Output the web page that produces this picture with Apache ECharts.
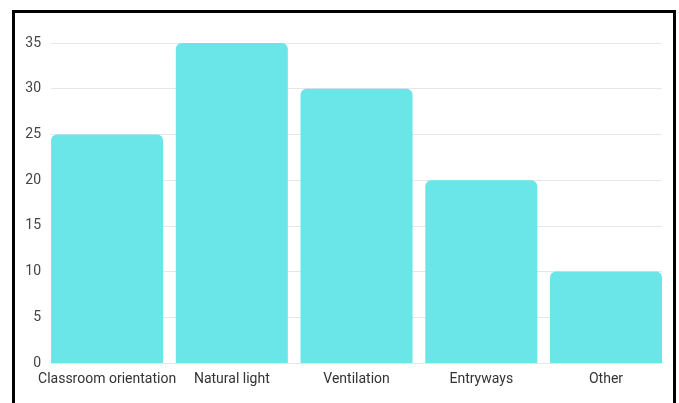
<!DOCTYPE html>
<html>
<head>
<meta charset="utf-8">
<script src="https://cdn.jsdelivr.net/npm/echarts@6/dist/echarts.min.js"></script>
<style>
  html, body { margin: 0; padding: 0; background: #fff; }
  #chart { position: absolute; left: 0; top: 0; width: 679px; height: 403px; }
  #frame { position: absolute; left: 12px; top: 10px; width: 664px; height: 410px;
           box-sizing: border-box; border: 3px solid #000; pointer-events: none; }
</style>
</head>
<body>
<div id="chart"></div>
<div id="frame"></div>
<script>
// Design features and how many respondents mentioned each
const categories = ['Classroom orientation', 'Natural light', 'Ventilation', 'Entryways', 'Other'];
const counts = [25, 35, 30, 20, 10];
const yTicks = [0, 5, 10, 15, 20, 25, 30, 35];

const yMin = yTicks[0];
const yMax = yTicks[yTicks.length - 1];
const yStep = yTicks[1] - yTicks[0];

const chart = echarts.init(document.getElementById('chart'), null, { renderer: 'canvas' });

const labelFont = { fontFamily: 'Roboto, "Liberation Sans", sans-serif', fontSize: 14, color: '#444' };

chart.setOption({
  animation: false,
  grid: [
    // gridlines only
    { left: 51, right: 17, top: 43, bottom: 40 },
    // bars, widened so the outer bars sit flush with the gridline ends
    { left: 44.7, right: 10.6, top: 43, bottom: 40 }
  ],
  xAxis: [
    { gridIndex: 0, type: 'category', data: categories, show: false },
    {
      gridIndex: 1, type: 'category', data: categories,
      axisLine: { show: false }, axisTick: { show: false },
      axisLabel: Object.assign({ margin: 9, interval: 0 }, labelFont, { color: '#333' })
    }
  ],
  yAxis: [
    {
      gridIndex: 0, type: 'value', min: yMin, max: yMax, interval: yStep,
      axisLine: { show: false }, axisTick: { show: false },
      axisLabel: Object.assign({ margin: 10 }, labelFont),
      splitLine: { lineStyle: { color: '#e6e6e6', width: 1 } }
    },
    {
      gridIndex: 1, type: 'value', min: yMin, max: yMax, interval: yStep,
      show: false, splitLine: { show: false }
    }
  ],
  series: [{
    type: 'bar',
    xAxisIndex: 1,
    yAxisIndex: 1,
    data: counts,
    barCategoryGap: '10.2%',
    itemStyle: { color: '#6ae5e8', borderRadius: [6, 6, 0, 0] }
  }]
});
</script>
</body>
</html>
